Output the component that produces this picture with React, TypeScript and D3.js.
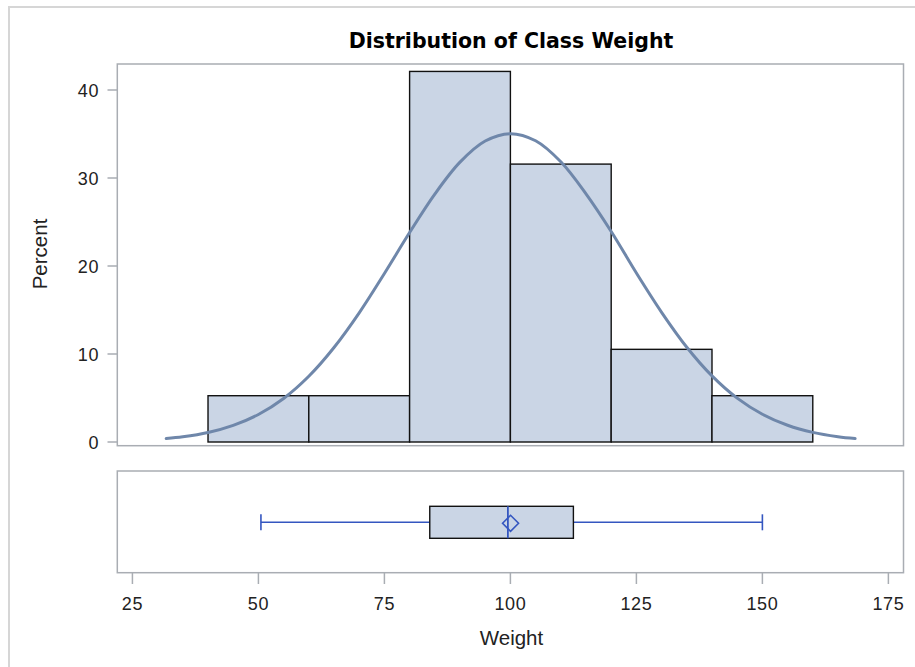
import React from "react";
import * as d3 from "d3";

// Histogram bins (Weight) and percents
const binEdges = [40, 60, 80, 100, 120, 140, 160];
const binPercents = [5.26, 5.26, 42.11, 31.58, 10.53, 5.26];

// Density curve points (Weight, Percent)
const curveX = [31.7, 35, 40, 45, 50, 55, 60, 65, 70, 75, 80, 85, 90, 95, 100, 105, 110, 115, 120, 125, 130, 135, 140, 145, 150, 155, 160, 165, 168.4];
const curveY = [0.39, 0.59, 1.08, 1.89, 3.13, 4.95, 7.47, 10.74, 14.68, 19.15, 23.8, 28.17, 31.8, 34.2, 35.04, 34.23, 31.84, 28.2, 23.92, 19.2, 14.74, 10.77, 7.51, 4.98, 3.15, 1.9, 1.09, 0.6, 0.39];

// Box plot statistics
const boxMin = 50.5;
const boxQ1 = 84;
const boxMedian = 99.5;
const boxMean = 100.03;
const boxQ3 = 112.5;
const boxMax = 150;

// Ticks
const xTicks = [25, 50, 75, 100, 125, 150, 175];
const yTicks = [0, 10, 20, 30, 40];

const title = "Distribution of Class Weight";
const xLabel = "Weight";
const yLabel = "Percent";

export default function App() {
  const left = 117.3;
  const right = 903.5;
  const top = 64;
  const bottom = 445.7;
  const boxTop = 471;
  const boxBottom = 572.7;

  const x = d3.scaleLinear().domain([22, 178]).range([left, right]);
  const y = d3.scaleLinear().domain([0, 40]).range([442, 90]);

  const bins = binPercents.map((p, i) => ({ x0: binEdges[i], x1: binEdges[i + 1], p }));
  const pts = curveX.map((cx, i) => [cx, curveY[i]] as [number, number]);
  const line = d3
    .line<[number, number]>()
    .x((d) => x(d[0]))
    .y((d) => y(d[1]))
    .curve(d3.curveCatmullRom);

  const bc = 522.3; // box center y
  const bh = 16;
  const fill = "#cad5e5";
  const blue = "#3456c0";
  const frame = "#a9adb3";
  const font = "'Liberation Sans', Arial, sans-serif";

  const mx = x(boxMean);
  const dm = 8;

  return (
    <svg
      width={915}
      height={667}
      style={{ position: "absolute", left: 0, top: 0, background: "#fff" }}
    >
      <rect x={9} y={7} width={1000} height={1000} fill="#fff" stroke="#d6d6d6" strokeWidth={2} />
      <text
        x={511}
        y={48}
        textAnchor="middle"
        fontFamily="'DejaVu Sans', Verdana, sans-serif"
        fontWeight="bold"
        fontSize={20.5}
        fill="#000"
      >
        {title}
      </text>

      {/* histogram panel */}
      <rect x={left} y={top} width={right - left} height={bottom - top} fill="#fff" stroke={frame} strokeWidth={1.5} />
      {bins.map((b, i) => (
        <rect
          key={i}
          x={x(b.x0)}
          y={y(b.p)}
          width={x(b.x1) - x(b.x0)}
          height={y(0) - y(b.p)}
          fill={fill}
          stroke="#111"
          strokeWidth={1.4}
        />
      ))}
      <path d={line(pts) || ""} fill="none" stroke="#6f87aa" strokeWidth={3} strokeLinecap="round" />

      {yTicks.map((t) => (
        <g key={t}>
          <line x1={107.5} x2={left} y1={y(t)} y2={y(t)} stroke={frame} strokeWidth={1.5} />
          <text x={99} y={y(t) + 7} textAnchor="end" fontFamily={font} fontSize={18} letterSpacing={0.6} fill="#222">
            {t}
          </text>
        </g>
      ))}
      <text
        transform={`translate(46.5,254) rotate(-90)`}
        textAnchor="middle"
        fontFamily={font}
        fontSize={20.5}
        fill="#222"
      >
        {yLabel}
      </text>

      {/* box plot panel */}
      <rect x={left} y={boxTop} width={right - left} height={boxBottom - boxTop} fill="#fff" stroke={frame} strokeWidth={1.5} />
      <line x1={x(boxMin)} x2={x(boxQ1)} y1={bc} y2={bc} stroke={blue} strokeWidth={1.6} />
      <line x1={x(boxQ3)} x2={x(boxMax)} y1={bc} y2={bc} stroke={blue} strokeWidth={1.6} />
      <line x1={x(boxMin)} x2={x(boxMin)} y1={bc - 8} y2={bc + 8} stroke={blue} strokeWidth={1.6} />
      <line x1={x(boxMax)} x2={x(boxMax)} y1={bc - 8} y2={bc + 8} stroke={blue} strokeWidth={1.6} />
      <rect x={x(boxQ1)} y={bc - bh} width={x(boxQ3) - x(boxQ1)} height={bh * 2} fill={fill} stroke="#111" strokeWidth={1.4} />
      <line x1={x(boxMedian)} x2={x(boxMedian)} y1={bc - bh} y2={bc + bh} stroke={blue} strokeWidth={1.8} />
      <path
        d={`M${mx - dm},${bc + 1} L${mx},${bc + 1 - dm} L${mx + dm},${bc + 1} L${mx},${bc + 1 + dm} Z`}
        fill="none"
        stroke={blue}
        strokeWidth={1.6}
      />

      {xTicks.map((t) => (
        <g key={t}>
          <line x1={x(t)} x2={x(t)} y1={boxBottom} y2={584} stroke={frame} strokeWidth={1.5} />
          <text x={x(t)} y={610} textAnchor="middle" fontFamily={font} fontSize={18} letterSpacing={0.6} fill="#222">
            {t}
          </text>
        </g>
      ))}
      <text x={511.5} y={644.5} textAnchor="middle" fontFamily={font} fontSize={20.5} fill="#222">
        {xLabel}
      </text>
    </svg>
  );
}
